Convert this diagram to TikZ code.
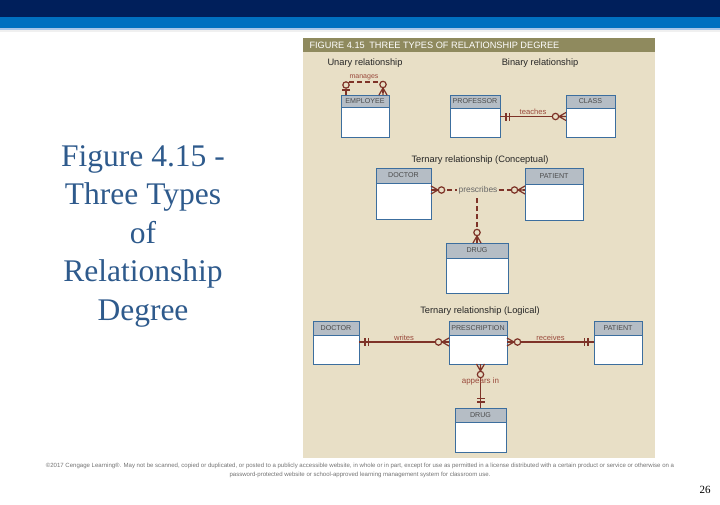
\documentclass[tikz,border=0pt]{standalone}
\usepackage{fontspec}
\setmainfont{Liberation Serif}
\setsansfont{Liberation Sans}
\usetikzlibrary{positioning}
\definecolor{navy}{HTML}{001F5B}
\definecolor{midblue}{HTML}{0070C0}
\definecolor{paleblue}{HTML}{A9C6E8}
\definecolor{capc}{HTML}{2E5A8C}
\definecolor{beige}{HTML}{E8DFC6}
\definecolor{band}{HTML}{8F8A5E}
\definecolor{hdrc}{HTML}{B5BDC5}
\definecolor{boxc}{HTML}{3C6E9E}
\definecolor{boxtxt}{HTML}{4A4A4A}
\definecolor{relc}{HTML}{7E3328}
\definecolor{reltxt}{HTML}{9A4A3C}
\tikzset{
  rel/.style={draw=relc, line width=1.2pt},
  reldash/.style={rel, dash pattern=on 5pt off 3pt},
  hdr/.style={draw=boxc, fill=hdrc, line width=0.9pt, inner sep=0pt, outer sep=0pt,
    font=\sffamily\fontsize{7.1}{8}\selectfont, text=boxtxt},
  bdy/.style={draw=boxc, fill=white, line width=0.9pt, inner sep=0pt, outer sep=0pt},
  lbl/.style={font=\sffamily\fontsize{7.6}{8}\selectfont, text=reltxt, inner sep=1pt},
  sect/.style={font=\sffamily\fontsize{9.3}{10}\selectfont, text=black!85},
  crowzero/.pic={\draw[rel] (-7,0) -- (0,4) (-7,0) -- (0,-4) (-7,0) -- (0,0);
    \draw[rel, fill=beige] (-10.5,0) circle[radius=3.2pt];},
  onebar/.pic={\draw[rel] (-6,-4) -- (-6,4) (-9.5,-4) -- (-9.5,4);},
  zeroone/.pic={\draw[rel] (-5,-4) -- (-5,4);
    \draw[rel, fill=beige] (-10,0) circle[radius=3.2pt];}
}
% name, x, y, width, header height, body height, label
\newcommand{\entity}[7]{%
  \node[hdr, minimum width=#4pt, minimum height=#5pt] (#1) at (#2,#3) {#7};
  \node[bdy, minimum width=#4pt, minimum height=#6pt, below=0pt of #1] (#1b) {};}
\begin{document}
\begin{tikzpicture}[x=1pt,y=-1pt]
\useasboundingbox (0,0) rectangle (720,504);
% top bars
\fill[navy] (0,0) rectangle (720,17);
\fill[midblue] (0,17) rectangle (720,27.5);
\fill[paleblue] (0,27.5) rectangle (720,29.5);
\fill[black!6] (0,29.5) rectangle (720,32);
% caption
\node[font=\fontsize{31.5}{38.5}\selectfont, text=capc, align=center] (cap) at (143,236)
  {Figure 4.15 -\\Three Types\\of\\Relationship\\Degree};
% panel
\fill[beige] (303,38) rectangle (655,458);
\fill[band] (303,38) rectangle (655,52);
\node[anchor=west, text=white, font=\sffamily\fontsize{9.2}{10}\selectfont] (ttl) at (306,45.5)
  {FIGURE 4.15\enspace THREE TYPES OF RELATIONSHIP DEGREE};
\node[sect] (un) at (365,63) {Unary relationship};
\node[sect] (bin) at (540,63) {Binary relationship};
\node[sect] (tc) at (480,160) {Ternary relationship (Conceptual)};
\node[sect] (tl) at (480,311) {Ternary relationship (Logical)};
% entities
\entity{emp}{365}{101}{48}{12}{30}{EMPLOYEE}
\entity{prof}{475}{101.5}{50}{13}{29}{PROFESSOR}
\entity{cls}{590.5}{101.5}{49}{13}{29}{CLASS}
\entity{doc}{403.5}{175.5}{55}{15}{36}{DOCTOR}
\entity{pat}{554}{176}{58}{16}{36}{PATIENT}
\entity{drug}{477}{250.5}{62}{15}{35}{DRUG}
\entity{doct}{336}{328}{46}{14}{29}{DOCTOR}
\entity{pres}{478}{328}{58}{14}{29}{PRESCRIPTION}
\entity{patt}{618}{328}{48}{14}{29}{PATIENT}
\entity{drugt}{480.5}{415}{51}{14}{30}{DRUG}
% unary
\coordinate (m1) at ([xshift=5pt,yshift=13pt]emp.north west);
\coordinate (m2) at ([xshift=-6pt,yshift=13pt]emp.north east);
\draw[reldash] ([xshift=5pt]emp.north west) -- (m1) -- (m2) -- ([xshift=-6pt]emp.north east);
\node[lbl, font=\sffamily\fontsize{7}{7}\selectfont] (mg) at (364,77) {manages};
\pic[rotate=-90] at ([xshift=5pt]emp.north west) {zeroone};
\pic[rotate=-90] at ([xshift=-6pt]emp.north east) {crowzero};
% binary
\draw[rel] ([yshift=6pt]profb.east) -- node[lbl, above] (tch) {teaches} ([yshift=6pt]clsb.west);
\pic[rotate=180] at ([yshift=6pt]profb.east) {onebar};
\pic at ([yshift=6pt]clsb.west) {crowzero};
% ternary, conceptual
\node[lbl, text=black!60, fill=beige, font=\sffamily\fontsize{8.4}{9}\selectfont] (prs) at (478,190) {prescribes};
\draw[reldash] ([yshift=11pt]docb.east) -- (prs) -- ([yshift=12pt]patb.west);
\draw[reldash] (drug.north) -- (drug.north |- prs.south);
\pic[rotate=180] at ([yshift=11pt]docb.east) {crowzero};
\pic at ([yshift=12pt]patb.west) {crowzero};
\pic[rotate=-90] at (drug.north) {crowzero};
% ternary, logical
\draw[rel] ([yshift=7.5pt]doctb.east) -- node[lbl, above] (wr) {writes} ([yshift=7.5pt]presb.west);
\draw[rel] ([yshift=7.5pt]presb.east) -- node[lbl, above] (rc) {receives} ([yshift=7.5pt]pattb.west);
\draw[rel] (presb.south -| drugt.north) -- node[lbl, pos=0.4, font=\sffamily\fontsize{8}{8}\selectfont] (ap) {appears in} (drugt.north);
\pic[rotate=180] at ([yshift=7.5pt]doctb.east) {onebar};
\pic at ([yshift=7.5pt]presb.west) {crowzero};
\pic[rotate=180] at ([yshift=7.5pt]presb.east) {crowzero};
\pic at ([yshift=7.5pt]pattb.west) {onebar};
\pic[rotate=90] at (presb.south -| drugt.north) {crowzero};
\pic[rotate=-90] at (drugt.north) {onebar};
% footer
\node[font=\sffamily\fontsize{6.05}{9}\selectfont, text=black!55, align=center] (cr) at (360,470.5)
  {©2017 Cengage Learning®. May not be scanned, copied or duplicated, or posted to a publicly accessible website, in whole or in part, except for use as permitted in a license distributed with a certain product or service or otherwise on a\\
  password-protected website or school-approved learning management system for classroom use.};
\node[font=\fontsize{11}{12}\selectfont] (pg) at (705,490) {26};
\end{tikzpicture}
\end{document}
